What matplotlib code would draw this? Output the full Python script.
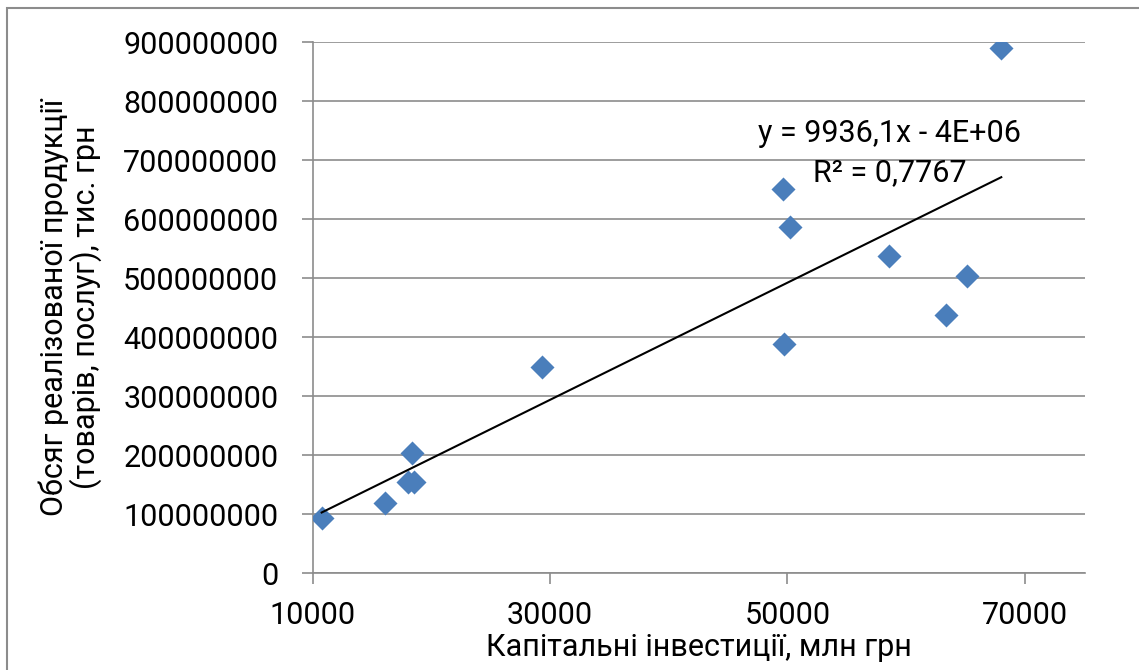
import matplotlib
matplotlib.use('Agg')
import matplotlib.pyplot as plt
import matplotlib.patches as patches
from matplotlib.ticker import FuncFormatter
import numpy as np

plt.rcParams['font.family'] = ['Roboto', 'DejaVu Sans']

# Капітальні інвестиції, млн грн
investments = [10730, 16050, 18350, 18050, 18520, 29330, 49640, 50220, 49700, 58590, 65140, 63420, 68040]
# Обсяг реалізованої продукції, тис. грн
sales = [94e6, 119e6, 204e6, 154e6, 155e6, 349e6, 651e6, 587e6, 388e6, 538e6, 504e6, 437e6, 891e6]

x_ticks = [10000, 30000, 50000, 70000]
y_ticks = [0, 100e6, 200e6, 300e6, 400e6, 500e6, 600e6, 700e6, 800e6, 900e6]

eq_text = 'y = 9936,1x - 4E+06'
r2_text = 'R² = 0,7767'
x_label = 'Капітальні інвестиції, млн грн'
y_label = 'Обсяг реалізованої продукції\n(товарів, послуг), тис. грн'

grid_color = '#8c8c8c'
point_color = '#4a7ebb'

W, H = 1139, 670
fig = plt.figure(figsize=(W / 100, H / 100), dpi=100)
ax = fig.add_axes([313 / W, 1 - 573.3 / H, (1085 - 313) / W, (573.3 - 42.3) / H])

# рамка області діаграми
fig.patches.append(patches.Rectangle((7 / W, -0.1), 1.2, 1 - 8 / H + 0.1,
                                     transform=fig.transFigure, fill=False,
                                     edgecolor=grid_color, linewidth=1.5))

ax.scatter(investments, sales, marker='D', s=150, color=point_color,
           linewidths=0, zorder=3)

# лінійний тренд
x = np.array(investments)
k, b = np.polyfit(x, np.array(sales), 1)
xs = np.array([x.min(), x.max()])
ax.plot(xs, k * xs + b, color='black', linewidth=1.5, zorder=4)

# підпис рівняння тренду
fig.text(890 / W, 1 - 133 / H, eq_text, fontsize=22, ha='center', va='center')
fig.text(890 / W, 1 - 173 / H, r2_text, fontsize=22, ha='center', va='center')

ax.set_xlim(10000, 75100)
ax.set_ylim(0, 900e6)
ax.set_xticks(x_ticks)
ax.set_yticks(y_ticks)
ax.yaxis.set_major_formatter(FuncFormatter(lambda v, p: f'{int(round(v))}'))
ax.xaxis.set_major_formatter(FuncFormatter(lambda v, p: f'{int(round(v))}'))
ax.tick_params(axis='both', labelsize=22, color=grid_color, width=1.2, length=8)
ax.tick_params(axis='y', pad=17)
ax.tick_params(axis='x', pad=12)

ax.grid(axis='y', color=grid_color, linewidth=1.2)
ax.set_axisbelow(True)
for side in ['top', 'right']:
    ax.spines[side].set_visible(False)
for side in ['left', 'bottom']:
    ax.spines[side].set_color(grid_color)
    ax.spines[side].set_linewidth(1.2)

fig.text(70 / W, 1 - 307 / H, y_label, rotation=90, fontsize=22,
         ha='center', va='center', multialignment='center', linespacing=1.0)
fig.text(699 / W, 1 - 648 / H, x_label, fontsize=22, ha='center', va='center')

plt.savefig('out.png', dpi=100)
plt.close()
